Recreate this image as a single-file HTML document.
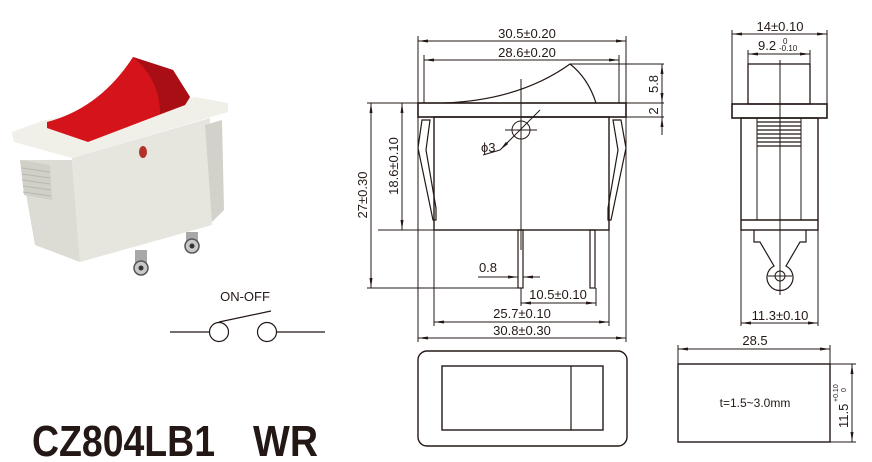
<!DOCTYPE html>
<html><head><meta charset="utf-8"><style>
html,body{margin:0;padding:0;background:#fff;}
svg{display:block;font-family:"Liberation Sans",sans-serif;}
</style></head><body>
<svg width="872" height="462" viewBox="0 0 872 462" xmlns="http://www.w3.org/2000/svg">
<defs>
<marker id="a" viewBox="0 0 10 6" refX="10" refY="3" markerWidth="10" markerHeight="6" orient="auto-start-reverse" markerUnits="userSpaceOnUse"><path d="M0,1.5L10,3L0,4.5z" fill="#231815"/></marker>
</defs>
<!-- photo -->
<g>
<polygon points="20,160 72,160 80,262 35,245" fill="#dcdcd4"/>
<polygon points="72,158 210,118 212,225 80,262" fill="#e6e6de"/>
<polygon points="20,160 50,165 52,200 24,195" fill="#d0d0c8"/>
<g stroke="#b8b8b0" stroke-width="1"><line x1="22" y1="168" x2="50" y2="172"/><line x1="22" y1="174" x2="50" y2="178"/><line x1="22" y1="180" x2="50" y2="184"/><line x1="23" y1="186" x2="51" y2="190"/><line x1="23" y1="192" x2="51" y2="196"/></g>
<polygon points="205,125 222,120 224,210 212,222" fill="#d2d2ca"/>
<polygon points="12,132 45,120 195,97 228,103 228,112 72,158 14,142" fill="#f0efe8"/>
<path d="M47,122 Q100,108 133,57 L173,70 L190,97 L185,105 L88,142 L47,128 Z" fill="#d4141a"/>
<path d="M133,57 L173,70 L190,97 L185,105 L160,114 Q160,80 133,57 Z" fill="#a80e14"/>
<ellipse cx="143" cy="152" rx="4" ry="6" fill="#b4302a"/>
<rect x="135" y="250" width="12" height="20" fill="#a8a8a8"/>
<circle cx="141" cy="268" r="7" fill="#c8c8c8" stroke="#555" stroke-width="1.5"/>
<circle cx="141" cy="268" r="2.5" fill="#333"/>
<rect x="186" y="232" width="12" height="18" fill="#a8a8a8"/>
<circle cx="192" cy="246" r="7" fill="#c8c8c8" stroke="#555" stroke-width="1.5"/>
<circle cx="192" cy="246" r="2.5" fill="#333"/>
</g>
<!-- symbol -->
<g stroke="#231815" stroke-width="1.2" fill="none">
<text x="245" y="301" font-size="13" fill="#231815" stroke="none" text-anchor="middle">ON-OFF</text>
<line x1="170" y1="332" x2="209" y2="332"/>
<circle cx="219" cy="332" r="9.5"/>
<circle cx="267" cy="332" r="9.5"/>
<line x1="277" y1="332" x2="325" y2="332"/>
<line x1="219" y1="322" x2="271" y2="311"/>
</g>
<text x="32" y="456" font-size="44" font-weight="bold" fill="#231815" textLength="183" lengthAdjust="spacingAndGlyphs">CZ804LB1</text>
<text x="253" y="456" font-size="44" font-weight="bold" fill="#231815" textLength="65" lengthAdjust="spacingAndGlyphs">WR</text>

<!-- front drawing -->
<g stroke="#231815" stroke-width="1" fill="none">
<line x1="418" y1="36" x2="418" y2="342"/>
<line x1="626" y1="36" x2="626" y2="342"/>
<line x1="424" y1="55" x2="424" y2="103"/>
<line x1="619" y1="55" x2="619" y2="103"/>
<line x1="418" y1="41" x2="626" y2="41" marker-start="url(#a)" marker-end="url(#a)"/>
<line x1="424" y1="60" x2="619" y2="60" marker-start="url(#a)" marker-end="url(#a)"/>
<rect x="418" y="103" width="208" height="14" stroke-width="1.6"/>
<path d="M444,103 Q520,100 570,64 Q588,78 596,103" stroke-width="1.2"/>
<line x1="570" y1="64" x2="664" y2="64"/>
<line x1="367" y1="103" x2="664" y2="103"/>
<line x1="626" y1="117" x2="664" y2="117"/>
<line x1="662" y1="64" x2="662" y2="103" marker-start="url(#a)" marker-end="url(#a)"/>
<line x1="662" y1="103" x2="662" y2="135" />
<line x1="662" y1="117" x2="662" y2="135" marker-start="url(#a)"/>
<rect x="434" y="117" width="175" height="113" stroke-width="1.4"/>
<path d="M430,120 L422,120 L418,148 L433,220 L436,220 L436,208 L426,150 Z" stroke-width="1.2"/>
<path d="M613,120 L621,120 L626,148 L611,220 L608,220 L608,208 L618,150 Z" stroke-width="1.2"/>
<line x1="521" y1="79" x2="521" y2="250"/>
<circle cx="521" cy="130" r="9"/>
<line x1="505" y1="130" x2="537" y2="130"/>
<line x1="540" y1="110" x2="500" y2="150" marker-end="url(#a)"/>
<line x1="500" y1="150" x2="483" y2="155"/>
<rect x="518" y="230" width="5" height="58" stroke-width="1.2"/>
<rect x="590" y="230" width="5" height="58" stroke-width="1.2"/>
<line x1="367" y1="288" x2="518" y2="288"/>
<line x1="371" y1="103" x2="371" y2="288" marker-start="url(#a)" marker-end="url(#a)"/>
<line x1="378" y1="230" x2="434" y2="230"/>
<line x1="402" y1="103" x2="402" y2="230" marker-start="url(#a)" marker-end="url(#a)"/>
<line x1="506" y1="277" x2="518" y2="277" marker-end="url(#a)"/>
<line x1="540" y1="277" x2="523" y2="277" marker-end="url(#a)"/>
<line x1="478" y1="277" x2="506" y2="277"/>
<line x1="521" y1="288" x2="521" y2="306"/>
<line x1="596" y1="288" x2="596" y2="306"/>
<line x1="521" y1="303" x2="596" y2="303" marker-start="url(#a)" marker-end="url(#a)"/>
<line x1="434" y1="230" x2="434" y2="326"/>
<line x1="609" y1="230" x2="609" y2="326"/>
<line x1="434" y1="322" x2="609" y2="322" marker-start="url(#a)" marker-end="url(#a)"/>
<line x1="418" y1="338" x2="626" y2="338" marker-start="url(#a)" marker-end="url(#a)"/>
<rect x="418" y="351" width="209" height="95" rx="9" stroke-width="1.4"/>
<rect x="442" y="366" width="161" height="64" stroke-width="1.4"/>
<line x1="571" y1="366" x2="571" y2="430" stroke-width="1.2"/>
</g>
<g fill="#231815" font-size="13">
<text x="527" y="38" text-anchor="middle">30.5±0.20</text>
<text x="527" y="57" text-anchor="middle">28.6±0.20</text>
<text transform="translate(658,84) rotate(-90)" text-anchor="middle">5.8</text>
<text transform="translate(658,111) rotate(-90)" text-anchor="middle">2</text>
<text transform="translate(367,195) rotate(-90)" text-anchor="middle">27±0.30</text>
<text transform="translate(398,166) rotate(-90)" text-anchor="middle">18.6±0.10</text>
<text x="481" y="152">ϕ3</text>
<text x="488" y="272" text-anchor="middle">0.8</text>
<text x="558" y="299" text-anchor="middle">10.5±0.10</text>
<text x="522" y="318" text-anchor="middle">25.7±0.10</text>
<text x="522" y="335" text-anchor="middle">30.8±0.30</text>
</g>

<!-- side drawing -->
<g stroke="#231815" stroke-width="1" fill="none">
<line x1="732" y1="30" x2="732" y2="104"/>
<line x1="827" y1="30" x2="827" y2="104"/>
<line x1="732" y1="34" x2="827" y2="34" marker-start="url(#a)" marker-end="url(#a)"/>
<line x1="748" y1="50" x2="748" y2="64"/>
<line x1="810" y1="50" x2="810" y2="64"/>
<line x1="748" y1="54" x2="810" y2="54" marker-start="url(#a)" marker-end="url(#a)"/>
<rect x="748" y="64" width="62" height="40" stroke-width="1.3"/>
<rect x="732" y="104" width="95" height="14" stroke-width="1.6"/>
<rect x="741" y="118" width="77" height="112" stroke-width="1.4"/>
<line x1="741" y1="220" x2="818" y2="220" stroke-width="1.4"/>
<line x1="757" y1="118" x2="757" y2="220"/>
<line x1="801" y1="118" x2="801" y2="220"/>
<g stroke-width="1.2"><line x1="757" y1="122" x2="801" y2="122"/><line x1="757" y1="126" x2="801" y2="126"/><line x1="757" y1="130" x2="801" y2="130"/><line x1="757" y1="134" x2="801" y2="134"/><line x1="757" y1="138" x2="801" y2="138"/><line x1="757" y1="142" x2="801" y2="142"/><line x1="757" y1="146" x2="801" y2="146"/></g>
<path d="M754,230 L754,242 L760,242 L774,266 A13,13 0 1 0 786,266 L800,242 L806,242 L806,230" stroke-width="1.2"/>
<circle cx="780" cy="276" r="5"/>
<line x1="768" y1="276" x2="792" y2="276"/>
<line x1="780" y1="60" x2="780" y2="295"/>
<line x1="741" y1="230" x2="741" y2="326"/>
<line x1="818" y1="230" x2="818" y2="326"/>
<line x1="741" y1="323" x2="818" y2="323" marker-start="url(#a)" marker-end="url(#a)"/>
<line x1="678" y1="345" x2="678" y2="364"/>
<line x1="830" y1="345" x2="830" y2="364"/>
<line x1="678" y1="349" x2="830" y2="349" marker-start="url(#a)" marker-end="url(#a)"/>
<rect x="678" y="364" width="152" height="78" stroke-width="1.4"/>
<line x1="830" y1="364" x2="856" y2="364"/>
<line x1="830" y1="442" x2="856" y2="442"/>
<line x1="852" y1="364" x2="852" y2="442" marker-start="url(#a)" marker-end="url(#a)"/>
</g>
<g fill="#231815" font-size="13">
<text x="780" y="31" text-anchor="middle">14±0.10</text>
<text x="758" y="50">9.2</text>
<text x="783" y="44" font-size="8">0</text>
<text x="779" y="51" font-size="8">-0.10</text>
<text x="780" y="320" text-anchor="middle">11.3±0.10</text>
<text x="755" y="345" text-anchor="middle">28.5</text>
<text x="755" y="407" text-anchor="middle" font-size="12">t=1.5~3.0mm</text>
<text transform="translate(848,428) rotate(-90)">11.5</text>
<text transform="translate(838,402) rotate(-90)" font-size="7">+0.10</text>
<text transform="translate(846,392) rotate(-90)" font-size="7">0</text>
</g>
</svg>
</body></html>
